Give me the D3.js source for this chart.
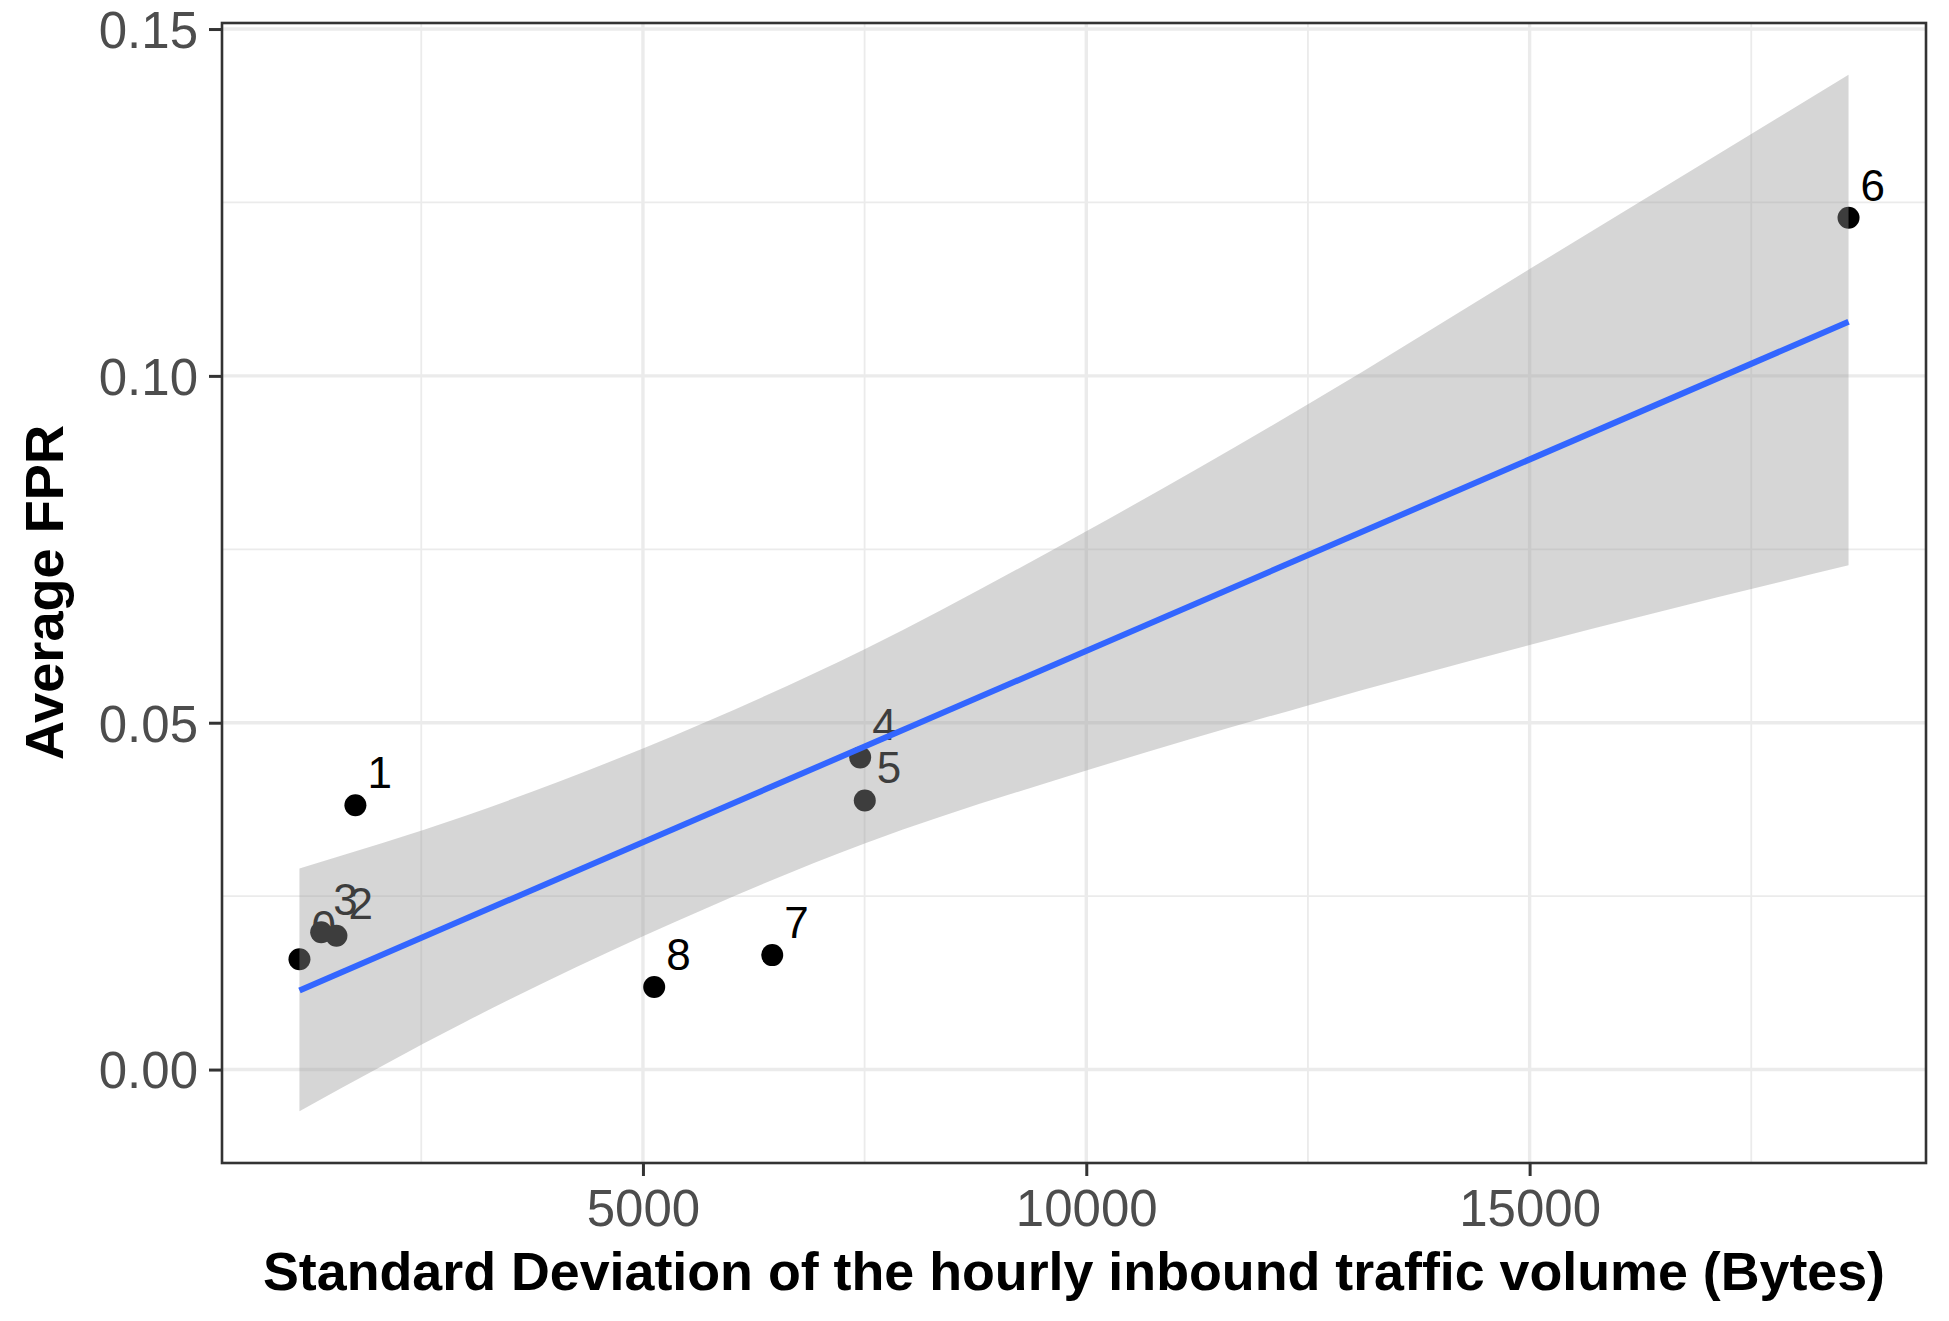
<!DOCTYPE html>
<html>
<head>
<meta charset="utf-8">
<script src="https://cdn.jsdelivr.net/npm/d3@7"></script>
<style>
  html, body { margin: 0; padding: 0; background: #ffffff; }
  svg { display: block; }
</style>
</head>
<body>
<svg id="chart" width="1949" height="1321"></svg>
<script>
// ---- data ----
const pointIds = ["0", "1", "2", "3", "4", "5", "6", "7", "8"];
const stdDevBytes = [1126, 1757, 1543, 1371, 7450, 7502, 18597, 6458, 5127];
const avgFPR = [0.0159, 0.0381, 0.0193, 0.0198, 0.0450, 0.0388, 0.1228, 0.0165, 0.0119];

const fitX = [1126, 18597];
const fitY = [0.0114, 0.1078];

const bandX = [1126, 3000, 5000, 7500, 10000, 12500, 15000, 18597];
const bandLow = [-0.0060, 0.0069, 0.0192, 0.0326, 0.0431, 0.0525, 0.0612, 0.0727];
const bandHigh = [0.0290, 0.0366, 0.0463, 0.0606, 0.0776, 0.0959, 0.1154, 0.1434];

const xMajorTicks = [5000, 10000, 15000];
const xMinorTicks = [2500, 7500, 12500, 17500];
const yMajorTicks = [0.00, 0.05, 0.10, 0.15];
const yMinorTicks = [0.025, 0.075, 0.125];

const xTitle = "Standard Deviation of the hourly inbound traffic volume (Bytes)";
const yTitle = "Average FPR";

// ---- layout ----
const panel = { left: 222, right: 1926, top: 23, bottom: 1163 };

function expand(ext, f) {
  const r = ext[1] - ext[0];
  return [ext[0] - f * r, ext[1] + f * r];
}

const xExt = d3.extent(stdDevBytes.concat(bandX));
const yExt = d3.extent(avgFPR.concat(bandLow, bandHigh, fitY));

const x = d3.scaleLinear().domain(expand(xExt, 0.05)).range([panel.left, panel.right]);
const y = d3.scaleLinear().domain(expand(yExt, 0.05)).range([panel.bottom, panel.top]);

const svg = d3.select("#chart");
svg.append("rect").attr("width", 1949).attr("height", 1321).attr("fill", "#ffffff");

const font = "Arial, 'Liberation Sans', Helvetica, sans-serif";

// grid
const grid = svg.append("g");
grid.selectAll("line.xmin").data(xMinorTicks).join("line")
  .attr("x1", d => x(d)).attr("x2", d => x(d))
  .attr("y1", panel.top).attr("y2", panel.bottom)
  .attr("stroke", "#EBEBEB").attr("stroke-width", 1.8);
grid.selectAll("line.ymin").data(yMinorTicks).join("line")
  .attr("y1", d => y(d)).attr("y2", d => y(d))
  .attr("x1", panel.left).attr("x2", panel.right)
  .attr("stroke", "#EBEBEB").attr("stroke-width", 1.8);
grid.selectAll("line.xmaj").data(xMajorTicks).join("line")
  .attr("x1", d => x(d)).attr("x2", d => x(d))
  .attr("y1", panel.top).attr("y2", panel.bottom)
  .attr("stroke", "#EBEBEB").attr("stroke-width", 3.4);
grid.selectAll("line.ymaj").data(yMajorTicks).join("line")
  .attr("y1", d => y(d)).attr("y2", d => y(d))
  .attr("x1", panel.left).attr("x2", panel.right)
  .attr("stroke", "#EBEBEB").attr("stroke-width", 3.4);

const pts = pointIds.map((id, i) => ({ id, x: stdDevBytes[i], y: avgFPR[i] }));

// labels (drawn under points)
svg.append("g").selectAll("text").data(pts).join("text")
  .attr("x", d => x(d.x) + 12)
  .attr("y", d => y(d.y) - 17)
  .attr("font-family", font)
  .attr("font-size", 44)
  .attr("fill", "#000000")
  .text(d => d.id);

// points
svg.append("g").selectAll("circle").data(pts).join("circle")
  .attr("cx", d => x(d.x))
  .attr("cy", d => y(d.y))
  .attr("r", 11)
  .attr("fill", "#000000");

// confidence band
const band = bandX.map((v, i) => ({ x: v, lo: bandLow[i], hi: bandHigh[i] }));
svg.append("path")
  .datum(band)
  .attr("d", d3.area().x(d => x(d.x)).y0(d => y(d.lo)).y1(d => y(d.hi)).curve(d3.curveMonotoneX))
  .attr("fill", "#999999")
  .attr("fill-opacity", 0.4);

// fitted line
svg.append("path")
  .datum(fitX.map((v, i) => ({ x: v, y: fitY[i] })))
  .attr("d", d3.line().x(d => x(d.x)).y(d => y(d.y)))
  .attr("fill", "none")
  .attr("stroke", "#3366FF")
  .attr("stroke-width", 6);

// panel border
svg.append("rect")
  .attr("x", panel.left).attr("y", panel.top)
  .attr("width", panel.right - panel.left).attr("height", panel.bottom - panel.top)
  .attr("fill", "none").attr("stroke", "#333333").attr("stroke-width", 2.6);

// axes
const xAxis = svg.append("g")
  .attr("transform", `translate(0,${panel.bottom})`)
  .call(d3.axisBottom(x).tickValues(xMajorTicks).tickFormat(d3.format("d")).tickSize(13).tickPadding(10));
const yAxis = svg.append("g")
  .attr("transform", `translate(${panel.left},0)`)
  .call(d3.axisLeft(y).tickValues(yMajorTicks).tickFormat(d3.format(".2f")).tickSize(13).tickPadding(11));

[xAxis, yAxis].forEach(a => {
  a.select(".domain").remove();
  a.selectAll(".tick line").attr("stroke", "#333333").attr("stroke-width", 3);
  a.selectAll(".tick text")
    .attr("fill", "#4D4D4D")
    .attr("font-family", font)
    .attr("font-size", 51);
});
xAxis.selectAll(".tick text").attr("dy", "0.78em");
yAxis.selectAll(".tick text").attr("dy", "0.36em");

// axis titles
svg.append("text")
  .attr("x", 263)
  .attr("y", 1290)
  .attr("text-anchor", "start")
  .attr("font-family", font)
  .attr("font-weight", "bold")
  .attr("font-size", 54)
  .attr("textLength", 1622)
  .attr("lengthAdjust", "spacingAndGlyphs")
  .attr("fill", "#000000")
  .text(xTitle);

svg.append("text")
  .attr("transform", `translate(63,760) rotate(-90)`)
  .attr("text-anchor", "start")
  .attr("font-family", font)
  .attr("font-weight", "bold")
  .attr("font-size", 54)
  .attr("textLength", 335)
  .attr("lengthAdjust", "spacingAndGlyphs")
  .attr("fill", "#000000")
  .text(yTitle);
</script>
</body>
</html>
